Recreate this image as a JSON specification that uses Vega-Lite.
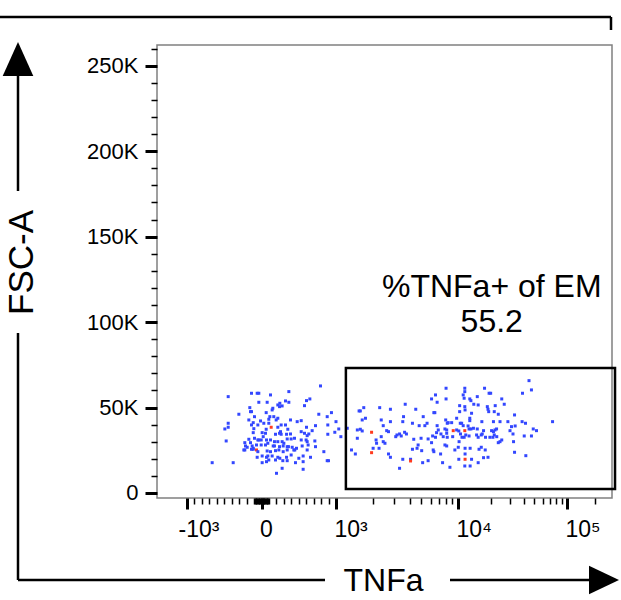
{
  "$schema": "https://vega.github.io/schema/vega-lite/v6.json",
  "width": 455,
  "height": 453,
  "autosize": {"type": "none"},
  "padding": {"left": 157, "top": 45, "right": 9, "bottom": 102},
  "background": "white",
  "config": {"view": {"stroke": "#808080", "strokeWidth": 1.5}, "font": "Liberation Sans"},
  "datasets": {
    "cells": [
      {"TNFa": 792, "FSC": 62650, "pop": "main"},
      {"TNFa": -447, "FSC": 56390, "pop": "main"},
      {"TNFa": -134, "FSC": 58360, "pop": "main"},
      {"TNFa": -58, "FSC": 58360, "pop": "main"},
      {"TNFa": -36, "FSC": 58360, "pop": "main"},
      {"TNFa": 121, "FSC": 57380, "pop": "main"},
      {"TNFa": 367, "FSC": 59330, "pop": "main"},
      {"TNFa": 649, "FSC": 55040, "pop": "main"},
      {"TNFa": 604, "FSC": 54060, "pop": "main"},
      {"TNFa": -36, "FSC": 53080, "pop": "main"},
      {"TNFa": 76, "FSC": 53080, "pop": "main"},
      {"TNFa": 219, "FSC": 51520, "pop": "main"},
      {"TNFa": 246, "FSC": 52500, "pop": "main"},
      {"TNFa": 277, "FSC": 50940, "pop": "main"},
      {"TNFa": 322, "FSC": 53870, "pop": "main"},
      {"TNFa": 367, "FSC": 53080, "pop": "main"},
      {"TNFa": 143, "FSC": 48600, "pop": "main"},
      {"TNFa": 152, "FSC": 49580, "pop": "main"},
      {"TNFa": -157, "FSC": 49950, "pop": "main"},
      {"TNFa": -148, "FSC": 47610, "pop": "main"},
      {"TNFa": -134, "FSC": 47610, "pop": "main"},
      {"TNFa": 63, "FSC": 47030, "pop": "main"},
      {"TNFa": 242, "FSC": 50530, "pop": "main"},
      {"TNFa": 577, "FSC": 51110, "pop": "main"},
      {"TNFa": -304, "FSC": 46080, "pop": "main"},
      {"TNFa": -94, "FSC": 44670, "pop": "main"},
      {"TNFa": 112, "FSC": 44670, "pop": "main"},
      {"TNFa": 98, "FSC": 43150, "pop": "main"},
      {"TNFa": 165, "FSC": 44670, "pop": "main"},
      {"TNFa": 197, "FSC": 42740, "pop": "main"},
      {"TNFa": 219, "FSC": 43740, "pop": "main"},
      {"TNFa": 769, "FSC": 46080, "pop": "main"},
      {"TNFa": 882, "FSC": 44670, "pop": "main"},
      {"TNFa": 939, "FSC": 47030, "pop": "main"},
      {"TNFa": -170, "FSC": 42740, "pop": "main"},
      {"TNFa": -111, "FSC": 41160, "pop": "main"},
      {"TNFa": -13, "FSC": 42160, "pop": "main"},
      {"TNFa": 31, "FSC": 40810, "pop": "main"},
      {"TNFa": 98, "FSC": 40810, "pop": "main"},
      {"TNFa": 264, "FSC": 39810, "pop": "main"},
      {"TNFa": 322, "FSC": 39810, "pop": "main"},
      {"TNFa": 389, "FSC": 42740, "pop": "main"},
      {"TNFa": 479, "FSC": 41750, "pop": "main"},
      {"TNFa": 533, "FSC": 42330, "pop": "main"},
      {"TNFa": -447, "FSC": 40810, "pop": "main"},
      {"TNFa": -447, "FSC": 38470, "pop": "main"},
      {"TNFa": -492, "FSC": 37470, "pop": "main"},
      {"TNFa": -103, "FSC": 37650, "pop": "main"},
      {"TNFa": -134, "FSC": 39810, "pop": "main"},
      {"TNFa": -49, "FSC": 39810, "pop": "main"},
      {"TNFa": 63, "FSC": 37300, "pop": "main"},
      {"TNFa": 130, "FSC": 38470, "pop": "back"},
      {"TNFa": 219, "FSC": 38470, "pop": "main"},
      {"TNFa": 255, "FSC": 35890, "pop": "main"},
      {"TNFa": 353, "FSC": 37300, "pop": "main"},
      {"TNFa": 604, "FSC": 38470, "pop": "main"},
      {"TNFa": 680, "FSC": 36480, "pop": "main"},
      {"TNFa": 725, "FSC": 39400, "pop": "main"},
      {"TNFa": 890, "FSC": 39810, "pop": "main"},
      {"TNFa": 1000, "FSC": 41750, "pop": "main"},
      {"TNFa": 9, "FSC": 35310, "pop": "main"},
      {"TNFa": 54, "FSC": 34950, "pop": "main"},
      {"TNFa": -111, "FSC": 35310, "pop": "main"},
      {"TNFa": 188, "FSC": 34370, "pop": "main"},
      {"TNFa": 242, "FSC": 34950, "pop": "main"},
      {"TNFa": 264, "FSC": 34370, "pop": "main"},
      {"TNFa": 336, "FSC": 34370, "pop": "main"},
      {"TNFa": 389, "FSC": 34540, "pop": "main"},
      {"TNFa": 533, "FSC": 35890, "pop": "main"},
      {"TNFa": 577, "FSC": 34950, "pop": "main"},
      {"TNFa": 613, "FSC": 33550, "pop": "main"},
      {"TNFa": 635, "FSC": 34540, "pop": "main"},
      {"TNFa": 890, "FSC": 34370, "pop": "main"},
      {"TNFa": 984, "FSC": 35540, "pop": "main"},
      {"TNFa": 1064, "FSC": 37470, "pop": "main"},
      {"TNFa": 1113, "FSC": 32960, "pop": "main"},
      {"TNFa": -474, "FSC": 30450, "pop": "main"},
      {"TNFa": -224, "FSC": 29450, "pop": "main"},
      {"TNFa": -170, "FSC": 31440, "pop": "main"},
      {"TNFa": -148, "FSC": 29450, "pop": "main"},
      {"TNFa": -94, "FSC": 32030, "pop": "main"},
      {"TNFa": -49, "FSC": 31030, "pop": "main"},
      {"TNFa": -36, "FSC": 31030, "pop": "main"},
      {"TNFa": -4, "FSC": 31030, "pop": "main"},
      {"TNFa": 23, "FSC": 32960, "pop": "main"},
      {"TNFa": 67, "FSC": 31030, "pop": "main"},
      {"TNFa": 85, "FSC": 29100, "pop": "main"},
      {"TNFa": 121, "FSC": 31030, "pop": "main"},
      {"TNFa": 174, "FSC": 30040, "pop": "main"},
      {"TNFa": 219, "FSC": 30040, "pop": "main"},
      {"TNFa": 277, "FSC": 30040, "pop": "main"},
      {"TNFa": 345, "FSC": 31620, "pop": "main"},
      {"TNFa": 398, "FSC": 31620, "pop": "main"},
      {"TNFa": 443, "FSC": 32030, "pop": "main"},
      {"TNFa": 533, "FSC": 31030, "pop": "main"},
      {"TNFa": 599, "FSC": 31030, "pop": "main"},
      {"TNFa": 613, "FSC": 30040, "pop": "main"},
      {"TNFa": 716, "FSC": 30450, "pop": "main"},
      {"TNFa": -215, "FSC": 27520, "pop": "main"},
      {"TNFa": -192, "FSC": 26760, "pop": "main"},
      {"TNFa": -125, "FSC": 27520, "pop": "main"},
      {"TNFa": -111, "FSC": 26170, "pop": "main"},
      {"TNFa": -67, "FSC": 28100, "pop": "main"},
      {"TNFa": -67, "FSC": 25180, "pop": "back"},
      {"TNFa": -4, "FSC": 28100, "pop": "main"},
      {"TNFa": 54, "FSC": 28100, "pop": "main"},
      {"TNFa": 157, "FSC": 27520, "pop": "main"},
      {"TNFa": 174, "FSC": 27520, "pop": "main"},
      {"TNFa": 242, "FSC": 27110, "pop": "main"},
      {"TNFa": 291, "FSC": 27520, "pop": "main"},
      {"TNFa": 300, "FSC": 29100, "pop": "main"},
      {"TNFa": 345, "FSC": 27110, "pop": "main"},
      {"TNFa": 362, "FSC": 27110, "pop": "main"},
      {"TNFa": 412, "FSC": 26760, "pop": "main"},
      {"TNFa": 470, "FSC": 26170, "pop": "main"},
      {"TNFa": 447, "FSC": 25180, "pop": "main"},
      {"TNFa": 546, "FSC": 27520, "pop": "main"},
      {"TNFa": 626, "FSC": 28100, "pop": "main"},
      {"TNFa": 725, "FSC": 27110, "pop": "main"},
      {"TNFa": -237, "FSC": 25180, "pop": "main"},
      {"TNFa": -224, "FSC": 25180, "pop": "main"},
      {"TNFa": -134, "FSC": 25590, "pop": "main"},
      {"TNFa": -111, "FSC": 25590, "pop": "main"},
      {"TNFa": -49, "FSC": 24180, "pop": "main"},
      {"TNFa": 76, "FSC": 24590, "pop": "main"},
      {"TNFa": 121, "FSC": 24180, "pop": "main"},
      {"TNFa": 188, "FSC": 24770, "pop": "main"},
      {"TNFa": 233, "FSC": 25180, "pop": "main"},
      {"TNFa": 291, "FSC": 24180, "pop": "main"},
      {"TNFa": 345, "FSC": 25180, "pop": "main"},
      {"TNFa": 434, "FSC": 25180, "pop": "main"},
      {"TNFa": 613, "FSC": 25180, "pop": "main"},
      {"TNFa": 837, "FSC": 24180, "pop": "main"},
      {"TNFa": -58, "FSC": 20900, "pop": "main"},
      {"TNFa": 9, "FSC": 21660, "pop": "main"},
      {"TNFa": 67, "FSC": 20900, "pop": "main"},
      {"TNFa": 85, "FSC": 21660, "pop": "main"},
      {"TNFa": 143, "FSC": 21660, "pop": "main"},
      {"TNFa": 219, "FSC": 20900, "pop": "main"},
      {"TNFa": 246, "FSC": 20320, "pop": "main"},
      {"TNFa": 336, "FSC": 20900, "pop": "main"},
      {"TNFa": 398, "FSC": 22250, "pop": "main"},
      {"TNFa": 501, "FSC": 20320, "pop": "main"},
      {"TNFa": 559, "FSC": 21660, "pop": "main"},
      {"TNFa": 658, "FSC": 20900, "pop": "main"},
      {"TNFa": 882, "FSC": 18910, "pop": "main"},
      {"TNFa": 899, "FSC": 18910, "pop": "main"},
      {"TNFa": -662, "FSC": 17740, "pop": "main"},
      {"TNFa": -380, "FSC": 17740, "pop": "main"},
      {"TNFa": 9, "FSC": 17740, "pop": "main"},
      {"TNFa": 67, "FSC": 18330, "pop": "main"},
      {"TNFa": 98, "FSC": 19320, "pop": "main"},
      {"TNFa": 188, "FSC": 19320, "pop": "main"},
      {"TNFa": 286, "FSC": 18910, "pop": "main"},
      {"TNFa": 345, "FSC": 18910, "pop": "main"},
      {"TNFa": 456, "FSC": 17740, "pop": "main"},
      {"TNFa": 559, "FSC": 18330, "pop": "main"},
      {"TNFa": 277, "FSC": 14460, "pop": "main"},
      {"TNFa": 201, "FSC": 11530, "pop": "main"},
      {"TNFa": 559, "FSC": 13880, "pop": "main"},
      {"TNFa": 45100, "FSC": 65750, "pop": "main"},
      {"TNFa": 47400, "FSC": 60310, "pop": "main"},
      {"TNFa": 39200, "FSC": 58370, "pop": "main"},
      {"TNFa": 7980, "FSC": 61300, "pop": "main"},
      {"TNFa": 11770, "FSC": 61300, "pop": "main"},
      {"TNFa": 11770, "FSC": 59310, "pop": "main"},
      {"TNFa": 17700, "FSC": 61300, "pop": "main"},
      {"TNFa": 6560, "FSC": 57380, "pop": "main"},
      {"TNFa": 6080, "FSC": 55040, "pop": "main"},
      {"TNFa": 7980, "FSC": 55040, "pop": "main"},
      {"TNFa": 6760, "FSC": 53100, "pop": "main"},
      {"TNFa": 11350, "FSC": 57380, "pop": "main"},
      {"TNFa": 11600, "FSC": 55450, "pop": "main"},
      {"TNFa": 13070, "FSC": 55040, "pop": "main"},
      {"TNFa": 13360, "FSC": 54040, "pop": "main"},
      {"TNFa": 15030, "FSC": 56390, "pop": "main"},
      {"TNFa": 19370, "FSC": 58370, "pop": "main"},
      {"TNFa": 19950, "FSC": 58370, "pop": "main"},
      {"TNFa": 25700, "FSC": 55040, "pop": "main"},
      {"TNFa": 27000, "FSC": 51930, "pop": "main"},
      {"TNFa": 3720, "FSC": 51930, "pop": "main"},
      {"TNFa": 10430, "FSC": 51110, "pop": "main"},
      {"TNFa": 11770, "FSC": 50530, "pop": "main"},
      {"TNFa": 14110, "FSC": 51930, "pop": "main"},
      {"TNFa": 15360, "FSC": 51520, "pop": "main"},
      {"TNFa": 18720, "FSC": 50530, "pop": "main"},
      {"TNFa": 22300, "FSC": 51110, "pop": "main"},
      {"TNFa": 18970, "FSC": 49000, "pop": "main"},
      {"TNFa": 21800, "FSC": 47600, "pop": "main"},
      {"TNFa": 23900, "FSC": 46080, "pop": "main"},
      {"TNFa": 2325, "FSC": 49940, "pop": "main"},
      {"TNFa": 1706, "FSC": 49940, "pop": "main"},
      {"TNFa": 1552, "FSC": 48010, "pop": "main"},
      {"TNFa": 1593, "FSC": 48010, "pop": "main"},
      {"TNFa": 2824, "FSC": 49000, "pop": "main"},
      {"TNFa": 4530, "FSC": 49000, "pop": "main"},
      {"TNFa": 6480, "FSC": 47020, "pop": "main"},
      {"TNFa": 6360, "FSC": 47020, "pop": "main"},
      {"TNFa": 10430, "FSC": 47600, "pop": "main"},
      {"TNFa": 11840, "FSC": 48600, "pop": "main"},
      {"TNFa": 13530, "FSC": 46660, "pop": "main"},
      {"TNFa": 19230, "FSC": 47600, "pop": "main"},
      {"TNFa": 33340, "FSC": 45670, "pop": "main"},
      {"TNFa": 1655, "FSC": 42740, "pop": "main"},
      {"TNFa": 1762, "FSC": 43740, "pop": "main"},
      {"TNFa": 2397, "FSC": 42740, "pop": "main"},
      {"TNFa": 2824, "FSC": 41750, "pop": "main"},
      {"TNFa": 3610, "FSC": 44670, "pop": "main"},
      {"TNFa": 3560, "FSC": 41750, "pop": "main"},
      {"TNFa": 4250, "FSC": 40810, "pop": "main"},
      {"TNFa": 5200, "FSC": 44670, "pop": "main"},
      {"TNFa": 5600, "FSC": 40810, "pop": "main"},
      {"TNFa": 7930, "FSC": 42740, "pop": "main"},
      {"TNFa": 8170, "FSC": 40810, "pop": "main"},
      {"TNFa": 8320, "FSC": 41160, "pop": "main"},
      {"TNFa": 8880, "FSC": 41160, "pop": "main"},
      {"TNFa": 9760, "FSC": 43740, "pop": "main"},
      {"TNFa": 10590, "FSC": 40810, "pop": "main"},
      {"TNFa": 10950, "FSC": 40810, "pop": "main"},
      {"TNFa": 13070, "FSC": 43740, "pop": "main"},
      {"TNFa": 13070, "FSC": 42330, "pop": "main"},
      {"TNFa": 16710, "FSC": 41750, "pop": "main"},
      {"TNFa": 21380, "FSC": 41750, "pop": "main"},
      {"TNFa": 24800, "FSC": 41750, "pop": "main"},
      {"TNFa": 28900, "FSC": 41750, "pop": "main"},
      {"TNFa": 38900, "FSC": 41750, "pop": "main"},
      {"TNFa": 41800, "FSC": 40810, "pop": "main"},
      {"TNFa": 73900, "FSC": 41750, "pop": "main"},
      {"TNFa": 1262, "FSC": 37880, "pop": "main"},
      {"TNFa": 1496, "FSC": 36890, "pop": "main"},
      {"TNFa": 1593, "FSC": 37300, "pop": "main"},
      {"TNFa": 1655, "FSC": 36300, "pop": "main"},
      {"TNFa": 1963, "FSC": 35540, "pop": "back"},
      {"TNFa": 2490, "FSC": 39400, "pop": "main"},
      {"TNFa": 2650, "FSC": 36480, "pop": "main"},
      {"TNFa": 2735, "FSC": 35890, "pop": "main"},
      {"TNFa": 3180, "FSC": 33960, "pop": "main"},
      {"TNFa": 3350, "FSC": 34540, "pop": "main"},
      {"TNFa": 3680, "FSC": 35540, "pop": "main"},
      {"TNFa": 3800, "FSC": 34540, "pop": "main"},
      {"TNFa": 4820, "FSC": 39400, "pop": "main"},
      {"TNFa": 5370, "FSC": 39400, "pop": "main"},
      {"TNFa": 6760, "FSC": 39400, "pop": "main"},
      {"TNFa": 6900, "FSC": 36890, "pop": "main"},
      {"TNFa": 7820, "FSC": 37470, "pop": "main"},
      {"TNFa": 8080, "FSC": 36890, "pop": "main"},
      {"TNFa": 9150, "FSC": 36480, "pop": "back"},
      {"TNFa": 9760, "FSC": 36890, "pop": "main"},
      {"TNFa": 10210, "FSC": 36300, "pop": "main"},
      {"TNFa": 11770, "FSC": 36480, "pop": "back"},
      {"TNFa": 11350, "FSC": 39400, "pop": "main"},
      {"TNFa": 12620, "FSC": 39230, "pop": "main"},
      {"TNFa": 12880, "FSC": 37470, "pop": "main"},
      {"TNFa": 13360, "FSC": 37470, "pop": "main"},
      {"TNFa": 14020, "FSC": 37880, "pop": "main"},
      {"TNFa": 15030, "FSC": 37470, "pop": "main"},
      {"TNFa": 17330, "FSC": 36480, "pop": "main"},
      {"TNFa": 20400, "FSC": 36480, "pop": "main"},
      {"TNFa": 21380, "FSC": 35890, "pop": "main"},
      {"TNFa": 22180, "FSC": 36890, "pop": "main"},
      {"TNFa": 23000, "FSC": 37470, "pop": "main"},
      {"TNFa": 30000, "FSC": 36480, "pop": "main"},
      {"TNFa": 31100, "FSC": 38820, "pop": "main"},
      {"TNFa": 33800, "FSC": 39230, "pop": "main"},
      {"TNFa": 49100, "FSC": 37470, "pop": "main"},
      {"TNFa": 52700, "FSC": 36480, "pop": "main"},
      {"TNFa": 1496, "FSC": 32030, "pop": "main"},
      {"TNFa": 2157, "FSC": 31030, "pop": "main"},
      {"TNFa": 2180, "FSC": 29100, "pop": "main"},
      {"TNFa": 2397, "FSC": 32960, "pop": "main"},
      {"TNFa": 2490, "FSC": 30040, "pop": "main"},
      {"TNFa": 2570, "FSC": 29100, "pop": "main"},
      {"TNFa": 3100, "FSC": 32960, "pop": "main"},
      {"TNFa": 3460, "FSC": 33370, "pop": "main"},
      {"TNFa": 4360, "FSC": 31440, "pop": "main"},
      {"TNFa": 4980, "FSC": 32030, "pop": "main"},
      {"TNFa": 5710, "FSC": 31620, "pop": "main"},
      {"TNFa": 6210, "FSC": 33370, "pop": "main"},
      {"TNFa": 6560, "FSC": 32610, "pop": "main"},
      {"TNFa": 6690, "FSC": 35310, "pop": "main"},
      {"TNFa": 7260, "FSC": 34540, "pop": "main"},
      {"TNFa": 7580, "FSC": 32960, "pop": "main"},
      {"TNFa": 8080, "FSC": 34950, "pop": "main"},
      {"TNFa": 8170, "FSC": 32610, "pop": "main"},
      {"TNFa": 9050, "FSC": 32960, "pop": "main"},
      {"TNFa": 10650, "FSC": 34540, "pop": "main"},
      {"TNFa": 11040, "FSC": 32610, "pop": "main"},
      {"TNFa": 11600, "FSC": 32610, "pop": "main"},
      {"TNFa": 12020, "FSC": 33960, "pop": "main"},
      {"TNFa": 12880, "FSC": 33370, "pop": "main"},
      {"TNFa": 14840, "FSC": 33960, "pop": "main"},
      {"TNFa": 15360, "FSC": 32610, "pop": "main"},
      {"TNFa": 16500, "FSC": 33960, "pop": "main"},
      {"TNFa": 16850, "FSC": 34540, "pop": "main"},
      {"TNFa": 18060, "FSC": 32610, "pop": "main"},
      {"TNFa": 19660, "FSC": 32610, "pop": "main"},
      {"TNFa": 21100, "FSC": 32610, "pop": "main"},
      {"TNFa": 21800, "FSC": 33960, "pop": "main"},
      {"TNFa": 23100, "FSC": 32960, "pop": "main"},
      {"TNFa": 24800, "FSC": 30040, "pop": "main"},
      {"TNFa": 25700, "FSC": 31030, "pop": "main"},
      {"TNFa": 32200, "FSC": 34540, "pop": "main"},
      {"TNFa": 32600, "FSC": 30040, "pop": "main"},
      {"TNFa": 40600, "FSC": 33370, "pop": "main"},
      {"TNFa": 47400, "FSC": 33370, "pop": "main"},
      {"TNFa": 2020, "FSC": 26170, "pop": "main"},
      {"TNFa": 2295, "FSC": 26170, "pop": "main"},
      {"TNFa": 2735, "FSC": 22830, "pop": "main"},
      {"TNFa": 2824, "FSC": 20900, "pop": "main"},
      {"TNFa": 1963, "FSC": 23600, "pop": "back"},
      {"TNFa": 1360, "FSC": 25180, "pop": "main"},
      {"TNFa": 1450, "FSC": 22830, "pop": "main"},
      {"TNFa": 4250, "FSC": 25590, "pop": "main"},
      {"TNFa": 4640, "FSC": 26170, "pop": "main"},
      {"TNFa": 4730, "FSC": 28100, "pop": "main"},
      {"TNFa": 5040, "FSC": 24770, "pop": "main"},
      {"TNFa": 6080, "FSC": 29450, "pop": "main"},
      {"TNFa": 6280, "FSC": 25180, "pop": "main"},
      {"TNFa": 6360, "FSC": 24180, "pop": "main"},
      {"TNFa": 7210, "FSC": 22830, "pop": "main"},
      {"TNFa": 7820, "FSC": 28100, "pop": "main"},
      {"TNFa": 8080, "FSC": 27520, "pop": "main"},
      {"TNFa": 9440, "FSC": 25180, "pop": "main"},
      {"TNFa": 10070, "FSC": 26760, "pop": "main"},
      {"TNFa": 10280, "FSC": 30040, "pop": "main"},
      {"TNFa": 11840, "FSC": 26170, "pop": "main"},
      {"TNFa": 11840, "FSC": 22830, "pop": "main"},
      {"TNFa": 13160, "FSC": 26170, "pop": "main"},
      {"TNFa": 15670, "FSC": 25590, "pop": "main"},
      {"TNFa": 16500, "FSC": 26760, "pop": "main"},
      {"TNFa": 17950, "FSC": 25180, "pop": "main"},
      {"TNFa": 23900, "FSC": 29450, "pop": "main"},
      {"TNFa": 33340, "FSC": 23830, "pop": "main"},
      {"TNFa": 42100, "FSC": 21840, "pop": "main"},
      {"TNFa": 3560, "FSC": 19730, "pop": "main"},
      {"TNFa": 4090, "FSC": 19730, "pop": "main"},
      {"TNFa": 4090, "FSC": 18740, "pop": "back"},
      {"TNFa": 5140, "FSC": 17740, "pop": "main"},
      {"TNFa": 5710, "FSC": 18910, "pop": "main"},
      {"TNFa": 7490, "FSC": 17740, "pop": "main"},
      {"TNFa": 8600, "FSC": 15050, "pop": "main"},
      {"TNFa": 10210, "FSC": 19730, "pop": "main"},
      {"TNFa": 11840, "FSC": 19730, "pop": "back"},
      {"TNFa": 13530, "FSC": 19730, "pop": "main"},
      {"TNFa": 15360, "FSC": 17740, "pop": "main"},
      {"TNFa": 17330, "FSC": 20670, "pop": "main"},
      {"TNFa": 18970, "FSC": 20900, "pop": "main"},
      {"TNFa": 3350, "FSC": 14460, "pop": "main"},
      {"TNFa": 11770, "FSC": 15810, "pop": "main"},
      {"TNFa": 13160, "FSC": 15810, "pop": "main"}
    ],
    "gate": [{"TNFa": 1230, "TNFa_end": 273000, "FSC": 2300, "FSC_end": 73200}],
    "gateText": [
      {"TNFa": 20500, "FSC": 114760, "label": "%TNFa+ of EM"},
      {"TNFa": 20500, "FSC": 94270, "label": "55.2"}
    ],
    "frameLines": [
      {"fx": 0, "fy": 17, "fx2": 611, "fy2": 17},
      {"fx": 611, "fy": 17, "fx2": 611, "fy2": 30},
      {"fx": 18, "fy": 75, "fx2": 18, "fy2": 191},
      {"fx": 18, "fy": 333, "fx2": 18, "fy2": 580},
      {"fx": 18, "fy": 580, "fx2": 325, "fy2": 580},
      {"fx": 450, "fy": 580, "fx2": 592, "fy2": 580}
    ],
    "arrowUp": [{"fx": 18, "fy": 59}],
    "arrowRight": [{"fx": 604, "fy": 580}]
  },
  "layer": [
    {
      "data": {"name": "cells"},
      "mark": {"type": "square", "size": 9, "opacity": 1, "filled": true},
      "encoding": {
        "x": {"field": "TNFa", "type": "quantitative",
              "scale": {"domain": [-1750, -1500, -1000, 1000, 1500, 2000, 3000, 4000, 5000, 6000, 7000, 8000, 9000, 10000, 15000, 20000, 30000, 40000, 50000, 60000, 70000, 80000, 90000, 100000, 262144],
                        "range": [0, 8.5, 30, 179, 200.5, 215.7, 237.2, 252.5, 264.3, 273.9, 282.1, 289.2, 295.4, 301, 320.2, 333.8, 353.0, 366.6, 377.2, 385.8, 393.1, 399.4, 405.0, 410, 455],
                        "zero": false, "nice": false},
              "axis": {
                "values": [-1000, 0, 1000, 10000, 100000, 5000, 50000,
                           -900, -800, -700, -600, -500, -400, -300, -200, -100,
                           -90, -80, -70, -60, -50, -40, -30, -20, -10,
                           10, 20, 30, 40, 50, 60, 70, 80, 90,
                           100, 200, 300, 400, 500, 600, 700, 800, 900,
                           2000, 3000, 4000, 6000, 7000, 8000, 9000,
                           20000, 30000, 40000, 60000, 70000, 80000, 90000, 200000],
                "labelExpr": "datum.value == -1000 ? '-10³' : datum.value == 0 ? '0' : datum.value == 1000 ? '10³' : datum.value == 10000 ? '10⁴' : datum.value == 100000 ? '10⁵' : ''",
                "tickSize": {"condition": {"test": "indexof([-1000, 0, 1000, 10000, 100000], datum.value) >= 0", "value": 11}, "value": 6},
                "tickWidth": {"condition": {"test": "indexof([-1000, 0, 1000, 10000, 100000], datum.value) >= 0", "value": 3}, "value": 1.5},
                "tickColor": "black",
                "domain": false, "grid": false,
                "labelFont": "Liberation Sans", "labelFontSize": 23, "labelColor": "black",
                "labelAlign": "left",
                "labelOffset": {"condition": {"test": "datum.value < 0", "value": -9}, "value": -2},
                "labelPadding": 9, "labelOverlap": false, "labelBound": false, "labelFlush": false,
                "title": "TNFa", "titleFont": "Liberation Sans", "titleFontSize": 32, "titleFontWeight": "normal", "titleColor": "black",
                "titleX": 226, "titleY": 82, "titleAlign": "center", "titleBaseline": "middle"
              }},
        "y": {"field": "FSC", "type": "quantitative",
              "scale": {"domain": [-2926, 262144], "zero": false, "nice": false},
              "axis": {
                "values": [0, 10000, 20000, 30000, 40000, 50000, 60000, 70000, 80000, 90000, 100000, 110000, 120000, 130000, 140000, 150000, 160000, 170000, 180000, 190000, 200000, 210000, 220000, 230000, 240000, 250000, 260000],
                "labelExpr": "datum.value % 50000 == 0 ? (datum.value == 0 ? '0' : (datum.value / 1000) + 'K') : ''",
                "tickSize": {"condition": {"test": "datum.value % 50000 == 0", "value": 12}, "value": 6},
                "tickWidth": {"condition": {"test": "datum.value % 50000 == 0", "value": 3}, "value": 1.5},
                "tickColor": "black",
                "domain": false, "grid": false,
                "labelFont": "Liberation Sans", "labelFontSize": 22, "labelColor": "black",
                "labelPadding": 7, "labelOverlap": false, "labelBound": false, "labelFlush": false,
                "title": "FSC-A", "titleFont": "Liberation Sans", "titleFontSize": 35, "titleFontWeight": "normal", "titleColor": "black",
                "titleX": -136, "titleY": 217, "titleAngle": -90, "titleAlign": "center", "titleBaseline": "middle"
              }},
        "color": {"field": "pop", "type": "nominal", "legend": null,
                  "scale": {"domain": ["main", "back"], "range": ["#3347ff", "#ff3b1f"]}}
      }
    },
    {
      "data": {"name": "gate"},
      "mark": {"type": "rect", "fillOpacity": 0, "stroke": "black", "strokeWidth": 2.5},
      "encoding": {
        "x": {"field": "TNFa", "type": "quantitative", "axis": null,
              "scale": {"domain": [-1750, -1500, -1000, 1000, 1500, 2000, 3000, 4000, 5000, 6000, 7000, 8000, 9000, 10000, 15000, 20000, 30000, 40000, 50000, 60000, 70000, 80000, 90000, 100000, 262144],
                        "range": [0, 8.5, 30, 179, 200.5, 215.7, 237.2, 252.5, 264.3, 273.9, 282.1, 289.2, 295.4, 301, 320.2, 333.8, 353.0, 366.6, 377.2, 385.8, 393.1, 399.4, 405.0, 410, 455],
                        "zero": false, "nice": false}},
        "x2": {"field": "TNFa_end"},
        "y": {"field": "FSC", "type": "quantitative", "axis": null,
              "scale": {"domain": [-2926, 262144], "zero": false, "nice": false}},
        "y2": {"field": "FSC_end"}
      }
    },
    {
      "data": {"name": "gateText"},
      "mark": {"type": "text", "font": "Liberation Sans", "fontSize": 32, "align": "center", "baseline": "alphabetic", "color": "black"},
      "encoding": {
        "x": {"field": "TNFa", "type": "quantitative", "axis": null,
              "scale": {"domain": [-1750, -1500, -1000, 1000, 1500, 2000, 3000, 4000, 5000, 6000, 7000, 8000, 9000, 10000, 15000, 20000, 30000, 40000, 50000, 60000, 70000, 80000, 90000, 100000, 262144],
                        "range": [0, 8.5, 30, 179, 200.5, 215.7, 237.2, 252.5, 264.3, 273.9, 282.1, 289.2, 295.4, 301, 320.2, 333.8, 353.0, 366.6, 377.2, 385.8, 393.1, 399.4, 405.0, 410, 455],
                        "zero": false, "nice": false}},
        "y": {"field": "FSC", "type": "quantitative", "axis": null,
              "scale": {"domain": [-2926, 262144], "zero": false, "nice": false}},
        "text": {"field": "label"}
      }
    },
    {
      "data": {"name": "frameLines"},
      "mark": {"type": "rule", "color": "black", "strokeWidth": 2.5},
      "encoding": {
        "x": {"field": "fx", "type": "quantitative", "axis": null, "scale": {"domain": [157, 612], "zero": false, "nice": false}},
        "x2": {"field": "fx2"},
        "y": {"field": "fy", "type": "quantitative", "axis": null, "scale": {"domain": [45, 498], "reverse": true, "zero": false, "nice": false}},
        "y2": {"field": "fy2"}
      }
    },
    {
      "data": {"name": "arrowUp"},
      "mark": {"type": "point", "shape": "M0,-1L0.9,1L-0.9,1Z", "size": 1156, "filled": true, "color": "black", "opacity": 1},
      "encoding": {
        "x": {"field": "fx", "type": "quantitative", "axis": null, "scale": {"domain": [157, 612], "zero": false, "nice": false}},
        "y": {"field": "fy", "type": "quantitative", "axis": null, "scale": {"domain": [45, 498], "reverse": true, "zero": false, "nice": false}}
      }
    },
    {
      "data": {"name": "arrowRight"},
      "mark": {"type": "point", "shape": "M1,0L-1,0.95L-1,-0.95Z", "size": 900, "filled": true, "color": "black", "opacity": 1},
      "encoding": {
        "x": {"field": "fx", "type": "quantitative", "axis": null, "scale": {"domain": [157, 612], "zero": false, "nice": false}},
        "y": {"field": "fy", "type": "quantitative", "axis": null, "scale": {"domain": [45, 498], "reverse": true, "zero": false, "nice": false}}
      }
    }
  ],
  "resolve": {"scale": {"x": "independent", "y": "independent"}}
}
